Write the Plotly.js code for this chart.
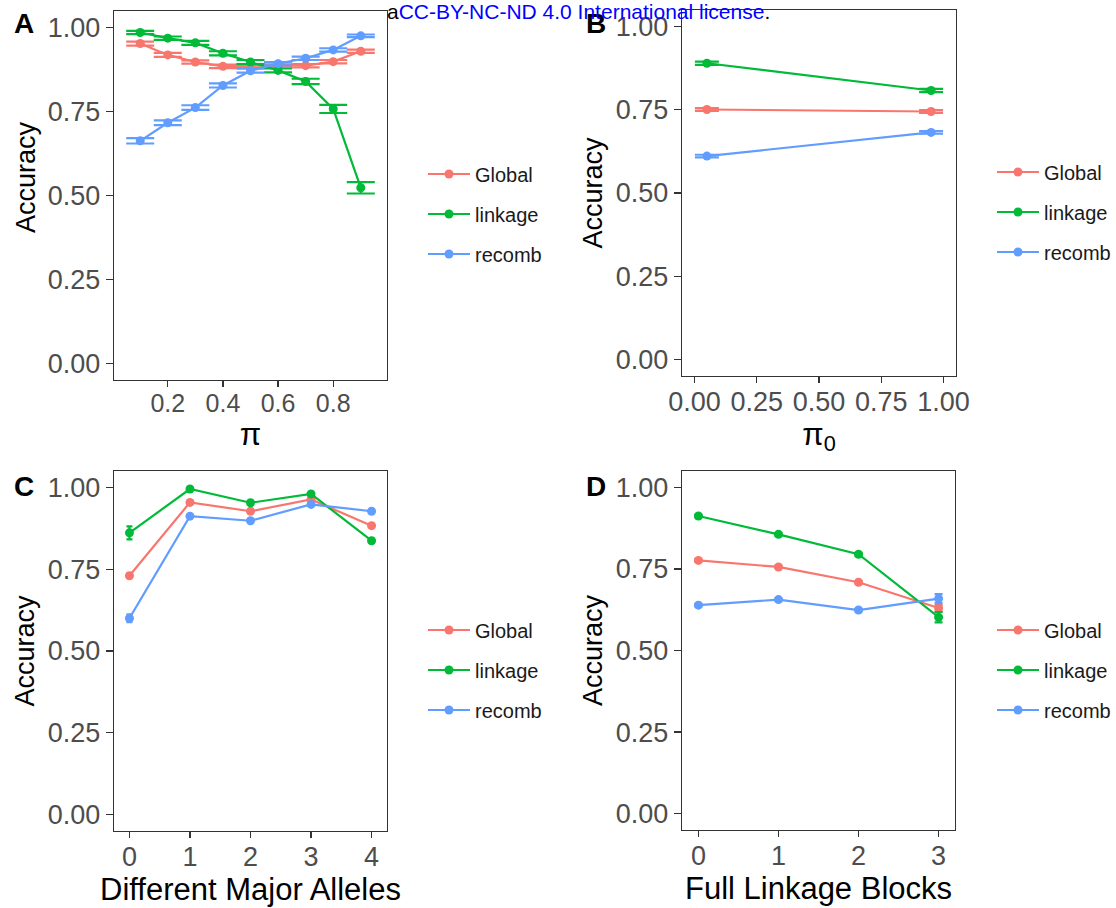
<!DOCTYPE html>
<html>
<head>
<meta charset="utf-8">
<script src="https://cdn.plot.ly/plotly-3.0.1.min.js"></script>
<style>html,body{margin:0;padding:0;background:#fff;} #chart{width:1116px;height:908px;}</style>
</head>
<body>
<div id="chart"></div>
<script>
// ---- Data ----
var seriesNames = ["Global", "linkage", "recomb"];
var seriesColors = ["#F8766D", "#00BA38", "#619CFF"];

// Panel A: accuracy vs pi
var piVals = [0.1, 0.2, 0.3, 0.4, 0.5, 0.6, 0.7, 0.8, 0.9];
var A_global  = [0.953, 0.919, 0.898, 0.885, 0.887, 0.891, 0.887, 0.899, 0.930];
var A_linkage = [0.986, 0.969, 0.955, 0.924, 0.898, 0.873, 0.840, 0.758, 0.523];
var A_recomb  = [0.663, 0.717, 0.762, 0.828, 0.872, 0.893, 0.909, 0.934, 0.976];
var A_global_err  = [0.006, 0.006, 0.005, 0.005, 0.005, 0.005, 0.005, 0.005, 0.005];
var A_linkage_err = [0.005, 0.005, 0.006, 0.006, 0.006, 0.006, 0.008, 0.012, 0.017];
var A_recomb_err  = [0.008, 0.007, 0.007, 0.006, 0.006, 0.005, 0.005, 0.005, 0.004];

// Panel B: accuracy vs pi0
var pi0Vals = [0.05, 0.95];
var B_global  = [0.751, 0.745];
var B_linkage = [0.890, 0.808];
var B_recomb  = [0.611, 0.682];
var B_global_err  = [0.004, 0.004];
var B_linkage_err = [0.005, 0.005];
var B_recomb_err  = [0.004, 0.004];

// Panel C: accuracy vs different major alleles
var allelesVals = [0, 1, 2, 3, 4];
var C_global  = [0.730, 0.954, 0.927, 0.963, 0.883];
var C_linkage = [0.861, 0.995, 0.953, 0.980, 0.837];
var C_recomb  = [0.600, 0.912, 0.898, 0.948, 0.927];
var C_global_err  = [0.006, 0.004, 0.004, 0.004, 0.005];
var C_linkage_err = [0.020, 0.003, 0.004, 0.004, 0.006];
var C_recomb_err  = [0.012, 0.004, 0.004, 0.004, 0.004];

// Panel D: accuracy vs full linkage blocks
var blocksVals = [0, 1, 2, 3];
var D_global  = [0.776, 0.756, 0.709, 0.630];
var D_linkage = [0.912, 0.856, 0.795, 0.602];
var D_recomb  = [0.639, 0.656, 0.624, 0.659];
var D_global_err  = [0.004, 0.004, 0.004, 0.010];
var D_linkage_err = [0.004, 0.004, 0.004, 0.016];
var D_recomb_err  = [0.004, 0.004, 0.004, 0.014];

var yTickVals = [0, 0.25, 0.5, 0.75, 1.0];
var yTickText = ["0.00", "0.25", "0.50", "0.75", "1.00"];

// ---- Build traces ----
var panels = [
  {x: piVals,      ys: [A_global, A_linkage, A_recomb], errs: [A_global_err, A_linkage_err, A_recomb_err], xa: "x",  ya: "y",  legend: "legend",  cap: 14},
  {x: pi0Vals,     ys: [B_global, B_linkage, B_recomb], errs: [B_global_err, B_linkage_err, B_recomb_err], xa: "x2", ya: "y2", legend: "legend2", cap: 12},
  {x: allelesVals, ys: [C_global, C_linkage, C_recomb], errs: [C_global_err, C_linkage_err, C_recomb_err], xa: "x3", ya: "y3", legend: "legend3", cap: 3},
  {x: blocksVals,  ys: [D_global, D_linkage, D_recomb], errs: [D_global_err, D_linkage_err, D_recomb_err], xa: "x4", ya: "y4", legend: "legend4", cap: 4}
];

var traces = [];
panels.forEach(function (p, pi) {
  for (var s = 0; s < 3; s++) {
    traces.push({
      type: "scatter",
      mode: "lines+markers",
      name: seriesNames[s],
      x: p.x,
      y: p.ys[s],
      xaxis: p.xa,
      yaxis: p.ya,
      legend: p.legend,
      legendgroup: "g" + pi + "_" + s,
      line: {color: seriesColors[s], width: 2.2},
      marker: {color: seriesColors[s], size: 9},
      error_y: {type: "data", array: p.errs[s], visible: true, color: seriesColors[s], thickness: 2.2, width: p.cap},
      cliponaxis: false
    });
  }
});

// ---- Layout ----
var W = 1116, H = 908;
var FAM = "Liberation Sans, Arial, sans-serif";
function dx(a, b) { return [a / W, b / W]; }
function dy(top, bottom) { return [1 - bottom / H, 1 - top / H]; }

var tickFont = {family: FAM, size: 27, color: "#4D4D4D"};
var titleFontY = {family: FAM, size: 27, color: "#000000"};
var titleFontX = {family: FAM, size: 31, color: "#000000"};

function yAxis(domain, anchor, title) {
  return {
    domain: domain, anchor: anchor, range: [-0.05, 1.05],
    tickvals: yTickVals, ticktext: yTickText,
    ticks: "outside", ticklen: 7, tickwidth: 1.2, tickcolor: "#333333",
    showline: true, mirror: true, linecolor: "#333333", linewidth: 1.2,
    showgrid: false, zeroline: false, tickfont: tickFont,
    title: {text: title, font: titleFontY, standoff: 5}
  };
}
function xAxis(domain, anchor, range, tickvals, ticktext, title, fsize) {
  return {
    domain: domain, anchor: anchor, range: range,
    tickvals: tickvals, ticktext: ticktext,
    ticks: "outside", ticklen: 6, tickwidth: 1.2, tickcolor: "#333333",
    ticklabelstandoff: -5,
    showline: true, mirror: true, linecolor: "#333333", linewidth: 1.2,
    showgrid: false, zeroline: false,
    tickfont: {family: FAM, size: fsize, color: "#4D4D4D"},
    title: {text: title, font: titleFontX, standoff: 4}
  };
}

function legendAt(xPx, yPx) {
  return {
    x: xPx / W, y: 1 - yPx / H, xanchor: "left", yanchor: "middle",
    font: {family: FAM, size: 20, color: "#1a1a1a"},
    bgcolor: "rgba(255,255,255,0)", borderwidth: 0,
    traceorder: "grouped", tracegroupgap: 11, itemwidth: 42
  };
}

var labelFont = {family: FAM, size: 28, color: "#000000", weight: "bold"};

var layout = {
  width: W, height: H, autosize: false,
  margin: {l: 0, r: 0, t: 0, b: 0},
  paper_bgcolor: "#ffffff", plot_bgcolor: "#ffffff",
  showlegend: true,
  xaxis:  xAxis(dx(114, 387), "y",  [0.005, 0.995], [0.2, 0.4, 0.6, 0.8], ["0.2", "0.4", "0.6", "0.8"], "π", 25),
  yaxis:  yAxis(dy(11, 380), "x", ""),
  xaxis2: xAxis(dx(682, 956), "y2", [-0.05, 1.05], [0, 0.25, 0.5, 0.75, 1.0], ["0.00", "0.25", "0.50", "0.75", "1.00"], "π<sub>0</sub>", 27),
  yaxis2: yAxis(dy(10, 376), "x2", "Accuracy"),
  xaxis3: xAxis(dx(114, 387), "y3", [-0.255, 4.255], [0, 1, 2, 3, 4], ["0", "1", "2", "3", "4"], "Different Major Alleles", 27),
  yaxis3: yAxis(dy(471, 831), "x3", "Accuracy"),
  xaxis4: xAxis(dx(682, 955), "y4", [-0.205, 3.205], [0, 1, 2, 3], ["0", "1", "2", "3"], "Full Linkage Blocks", 27),
  yaxis4: yAxis(dy(471, 830), "x4", "Accuracy"),
  legend:  legendAt(423, 214),
  legend2: legendAt(992, 212),
  legend3: legendAt(423, 670),
  legend4: legendAt(992, 670),
  annotations: [
    {text: "Accuracy", xref: "paper", yref: "paper", x: 26 / W, y: 1 - 177 / H, xanchor: "center", yanchor: "middle", textangle: -90, showarrow: false, font: titleFontY},
    {text: "A", xref: "paper", yref: "paper", x: 12 / W, y: 1 - 24 / H, xanchor: "left", yanchor: "middle", showarrow: false, font: labelFont},
    {text: "B", xref: "paper", yref: "paper", x: 584 / W, y: 1 - 24 / H, xanchor: "left", yanchor: "middle", showarrow: false, font: labelFont},
    {text: "C", xref: "paper", yref: "paper", x: 12 / W, y: 1 - 486 / H, xanchor: "left", yanchor: "middle", showarrow: false, font: labelFont},
    {text: "D", xref: "paper", yref: "paper", x: 584 / W, y: 1 - 486 / H, xanchor: "left", yanchor: "middle", showarrow: false, font: labelFont},
    {text: "a<span style=\"color:#0000FF\">CC-BY-NC-ND 4.0 International license</span>.", xref: "paper", yref: "paper",
     x: 385 / W, y: 1 - 12 / H, xanchor: "left", yanchor: "middle", showarrow: false,
     font: {family: FAM, size: 21, color: "#000000"}}
  ]
};

Plotly.newPlot("chart", traces, layout, {displayModeBar: false, staticPlot: true});
</script>
</body>
</html>
